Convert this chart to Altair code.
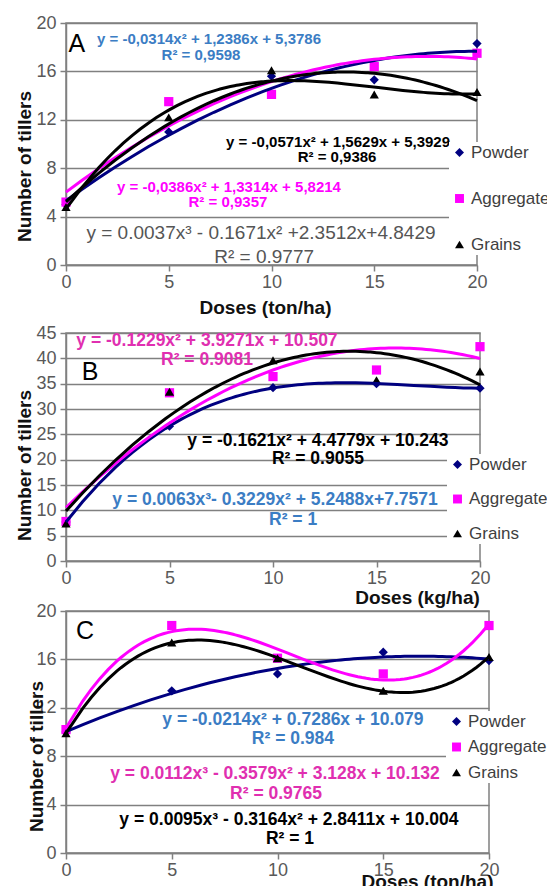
import altair as alt
import pandas as pd

FONT = "Liberation Sans"

doses = [0, 5, 10, 15, 20]
series_names = ["Powder", "Aggregate", "Grains"]

# Panel A (ton/ha)
a_powder = [5.0, 11.0, 15.6, 15.3, 18.3]
a_aggregate = [5.2, 13.5, 14.1, 16.4, 17.5]
a_grains = [4.8, 12.2, 16.1, 14.1, 14.3]

# Panel B (kg/ha)
b_powder = [7.7, 26.6, 34.2, 35.0, 34.1]
b_aggregate = [7.8, 33.2, 36.4, 37.7, 42.3]
b_grains = [7.4, 33.4, 39.6, 35.7, 37.4]

# Panel C (ton/ha)
c_powder = [10.0, 13.4, 14.8, 16.6, 15.9]
c_aggregate = [10.2, 18.8, 16.1, 14.8, 18.8]
c_grains = [9.9, 17.4, 16.1, 13.4, 16.2]

# Trend lines: (series, polynomial order)
a_trends = [("Powder", 2), ("Aggregate", 2), ("Grains", 2), ("Grains", 3)]
b_trends = [("Powder", 3), ("Aggregate", 2), ("Grains", 2)]
c_trends = [("Powder", 2), ("Aggregate", 3), ("Grains", 3)]

# Y tick labels
a_yticks = [0, 4, 8, 12, 16, 20]
b_yticks = [0, 5, 10, 15, 20, 25, 30, 35, 40, 45]
c_yticks = [0, 4, 8, 12, 16, 20]

# Annotation texts
a_text = ["A", "y = -0,0314x² + 1,2386x + 5,3786", "R² = 0,9598",
          "y = -0,0571x² + 1,5629x + 5,3929", "R² = 0,9386",
          "y = -0,0386x² + 1,3314x + 5,8214", "R² = 0,9357",
          "y = 0.0037x³ - 0.1671x²  +2.3512x+4.8429", "R² = 0.9777"]
b_text = ["B", "y = -0.1229x² + 3.9271x + 10.507", "R² = 0.9081",
          "y = -0.1621x² + 4.4779x + 10.243", "R² = 0.9055",
          "y = 0.0063x³- 0.3229x² + 5.2488x+7.7571", "R² = 1"]
c_text = ["C", "y = -0.0214x² + 0.7286x + 10.079", "R² = 0.984",
          "y = 0.0112x³ - 0.3579x² + 3.128x + 10.132", "R² = 0.9765",
          "y = 0.0095x³ - 0.3164x² + 2.8411x + 10.004", "R² = 1"]

# Annotation anchor positions (data units)
a_text_x = [0.53, 6.96, 6.57, 13.24, 13.19, 7.93, 7.88, 9.49, 9.64]
a_text_y = [18.26, 18.65, 17.36, 10.19, 8.90, 6.47, 5.23, 2.62, 0.69]
b_text_x = [1.16, 6.81, 6.81, 12.17, 12.17, 10.10, 10.97]
b_text_y = [37.3, 43.48, 39.67, 23.74, 20.07, 12.04, 8.09]
c_text_x = [0.90, 10.73, 10.73, 9.88, 9.93, 10.54, 10.59]
c_text_y = [18.35, 10.97, 9.45, 6.55, 4.90, 2.75, 1.18]

# Styles
BLUE_T, MAG_T, MAG_T2, GRAY_T = "#3b7dc4", "#ff00ff", "#e02fb0", "#555555"
a_text_color = ["#000000", BLUE_T, BLUE_T, "#000000", "#000000", MAG_T, MAG_T, GRAY_T, GRAY_T]
a_text_size = [25, 15, 15, 15, 15, 15, 15, 19, 19]
a_text_bold = [False, True, True, True, True, True, True, False, False]
b_text_color = ["#000000", MAG_T2, MAG_T2, "#000000", "#000000", BLUE_T, BLUE_T]
b_text_size = [25, 17.5, 17.5, 17.5, 17.5, 17.5, 17.5]
b_text_bold = [False, True, True, True, True, True, True]
c_text_color = ["#000000", BLUE_T, BLUE_T, MAG_T2, MAG_T2, "#000000", "#000000"]
c_text_size = [25, 17.5, 17.5, 17.5, 17.5, 17.5, 17.5]
c_text_bold = [False, True, True, True, True, True, True]

point_colors = ["#000080", "#ff00ff", "#000000"]
curve_colors = {"Powder": "#000080", "Aggregate": "#ff00ff", "Grains": "#000000"}
shapes = ["diamond", "square", "triangle-up"]
GRID = "#808080"


def panel(pw, pa, pg, trends, yticks, width, height, xtitle,
          xt_x, xt_y, yt_x, yt_y, leg_x, leg_y, row_pad,
          texts, tx, ty, tcol, tsize, tbold):
    df = pd.DataFrame({
        "dose": doses * 3,
        "tillers": pw + pa + pg,
        "series": [s for s in series_names for _ in doses],
    })
    xscale = alt.Scale(domain=[0, 20], nice=False)
    yscale = alt.Scale(domain=[0, max(yticks)], nice=False)
    xaxis = alt.Axis(values=doses, grid=False, title=xtitle, titleX=xt_x, titleY=xt_y,
                     titleAlign="center", titleBaseline="middle", titleFontSize=19,
                     titleFontWeight="bold", titleColor="#111111", labelFontSize=18,
                     labelColor="#595959", labelPadding=2, tickSize=6, tickColor=GRID,
                     tickWidth=1.5, domainColor=GRID, domainWidth=1.5, labelFlush=False,
                     labelOverlap=False)
    yaxis = alt.Axis(values=yticks, grid=True, gridColor=GRID, tickCount=len(yticks),
                     gridWidth=1.5, title="Number of tillers", titleAngle=270,
                     titleX=yt_x, titleY=yt_y, titleAlign="center", titleBaseline="middle",
                     titleFontSize=19, titleFontWeight="bold", titleColor="#111111",
                     labelFontSize=18, labelColor="#595959", labelPadding=4, tickSize=6,
                     tickColor=GRID, tickWidth=1.5, domainColor=GRID, domainWidth=1.5,
                     labelOverlap=False, labelFlush=False)
    X = lambda f: alt.X(f, scale=xscale, axis=xaxis)
    Y = lambda f: alt.Y(f, scale=yscale, axis=yaxis)
    leg = alt.Legend(title=None, orient="none", legendX=leg_x, legendY=leg_y,
                     fillColor="white", padding=2, rowPadding=row_pad, labelFont=FONT,
                     labelFontSize=17, labelColor="#404040", symbolSize=80, labelOffset=3)
    base = alt.Chart(df)
    pts = base.mark_point(filled=True, opacity=1, size=85).encode(
        x=X("dose:Q"), y=Y("tillers:Q"),
        color=alt.Color("series:N", scale=alt.Scale(domain=series_names, range=point_colors),
                        legend=leg, sort=series_names),
        shape=alt.Shape("series:N", scale=alt.Scale(domain=series_names, range=shapes),
                        legend=leg, sort=series_names),
    )
    layers = [pts]
    for s, order in trends:
        line = base.transform_filter(alt.datum.series == s).transform_regression(
            "dose", "tillers", method="poly", order=order, extent=[0, 20]
        ).mark_line(color=curve_colors[s], strokeWidth=3).encode(
            x=X("dose:Q"), y=Y("tillers:Q"))
        layers.append(line)
    tdf = pd.DataFrame({"dose": tx, "tillers": ty, "text": texts, "color": tcol,
                        "size": tsize, "bold": tbold})
    for bold in (True, False):
        sub = tdf[tdf["bold"] == bold]
        if len(sub) == 0:
            continue
        t = alt.Chart(sub).mark_text(font=FONT, fontWeight="bold" if bold else "normal",
                                     align="center", baseline="middle").encode(
            x=X("dose:Q"), y=Y("tillers:Q"),
            text="text:N", color=alt.Color("color:N", scale=None),
            size=alt.Size("size:Q", scale=None))
        layers.append(t)
    return alt.layer(*layers).properties(width=width, height=height)


A = panel(a_powder, a_aggregate, a_grains, a_trends, a_yticks, 411, 242, "Doses (ton/ha)",
          199, 42, -42, 143, 383, 119, 28,
          a_text, a_text_x, a_text_y, a_text_color, a_text_size, a_text_bold)
B = panel(b_powder, b_aggregate, b_grains, b_trends, b_yticks, 414, 228, "Doses (kg/ha)",
          351, 36, -42, 132, 381, 121, 16.5,
          b_text, b_text_x, b_text_y, b_text_color, b_text_size, b_text_bold)
C = panel(c_powder, c_aggregate, c_grains, c_trends, c_yticks, 423, 242, "Doses (ton/ha)",
          361, 28, -30, 145, 380, 100, 7.5,
          c_text, c_text_x, c_text_y, c_text_color, c_text_size, c_text_bold)


def spacer(h):
    return alt.Chart(pd.DataFrame({"v": [0]})).mark_point(opacity=0).properties(
        width=10, height=h, view=alt.ViewBackground(stroke="transparent"))


# Fixed canvas: 539 x 878 (page margin 8), plot origin of panel A at (58, 15)
chart = alt.vconcat(A, spacer(20), B, spacer(2), C, spacing=24, bounds="flush").resolve_scale(
    color="independent", shape="independent"
).resolve_legend(color="independent", shape="independent").properties(
    autosize=alt.AutoSizeParams(type="none"),
    padding={"left": 58, "top": 15, "right": 481, "bottom": 863}
).configure(font=FONT).configure_view(stroke=GRID, strokeWidth=1.5)

chart.save("out.html", embed_options={"renderer": "svg", "actions": False})
